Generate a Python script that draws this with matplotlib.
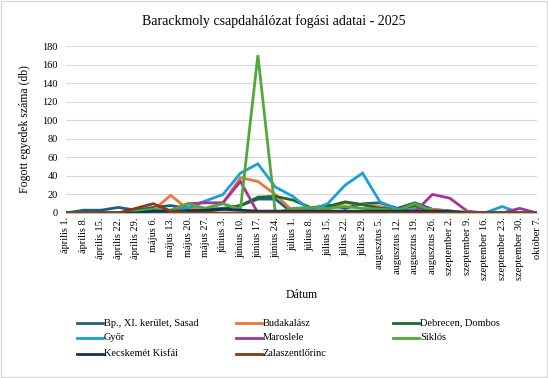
import matplotlib.pyplot as plt
from matplotlib.lines import Line2D
from matplotlib.patches import Rectangle

# ── data ─────────────────────────────────────────────────────────────────────
DATES = ["április 1.", "április 8.", "április 15.", "április 22.", "április 29.",
         "május 6.", "május 13.", "május 20.", "május 27.", "június 3.",
         "június 10.", "június 17.", "június 24.", "július 1.", "július 8.",
         "július 15.", "július 22.", "július 29.", "augusztus 5.", "augusztus 12.",
         "augusztus 19.", "augusztus 26.", "szeptember 2.", "szeptember 9.",
         "szeptember 16.", "szeptember 23.", "szeptember 30.", "október 7."]

BP_SASAD = [0, 3, 3, 6, 3, 6, 8, 5, 4, 5, 8, 15, 15, 0, 4, 9, 5, 10, 11, 5, 11, 4, 2, 0, 0, 0, 0, 0]
BUDAKALASZ = [0, 0, 0, 0, 0, 3, 19, 4, 5, 11, 38, 34, 20, 2, 6, 4, 11, 9, 7, 4, 5, 4, 2, 0, 0, 0, 0, 0]
DEBRECEN = [0, 0, 0, 0, 0, 0, 2, 3, 2, 4, 8, 17, 18, 14, 6, 7, 12, 9, 5, 4, 8, 2, 1, 0, 0, 0, 0, 0]
GYOR = [0, 0, 0, 0, 0, 0, 3, 6, 13, 20, 43, 53, 28, 18, 3, 10, 30, 43, 12, 4, 3, 0, 0, 0, 0, 7, 0, 0]
MAROSLELE = [0, 0, 0, 0, 0, 1, 2, 10, 11, 11, 34, 0, 0, 0, 0, 0, 0, 0, 0, 3, 1, 20, 16, 2, 0, 0, 5, 0]
SIKLOS = [0, 0, 0, 0, 2, 4, 3, 10, 5, 10, 4, 170, 0, 5, 6, 5, 7, 5, 4, 3, 10, 2, 2, 1, 0, 0, 0, 0]
KECSKEMET = [0, 0, 0, 0, 0, 2, 2, 2, 3, 4, 3, 2, 2, 2, 2, 2, 2, 2, 2, 2, 2, 2, 2, 0, 0, 0, 0, 0]
ZALA = [0, 0, 0, 0, 5, 10, 2, 0, 0, 0, 0, 0, 0, 0, 0, 0, 0, 0, 0, 0, 0, 0, 0, 0, 0, 0, 0, 0]

SERIES = [
    ("Bp., XI. kerület, Sasad", BP_SASAD, "#1F5F7E"),
    ("Budakalász", BUDAKALASZ, "#E8773A"),
    ("Debrecen, Dombos", DEBRECEN, "#1C6B2B"),
    ("Győr", GYOR, "#1AA0D8"),
    ("Maroslele", MAROSLELE, "#A0359C"),
    ("Siklós", SIKLOS, "#52A83A"),
    ("Kecskemét Kisfái", KECSKEMET, "#0E3550"),
    ("Zalaszentlőrinc", ZALA, "#8C3710"),
]

plt.rcParams["font.family"] = ["Liberation Serif", "DejaVu Serif"]

fig = plt.figure(figsize=(5.48, 3.78), dpi=100)
ax = fig.add_axes([66 / 548, 1 - 213 / 378, (537 - 66) / 548, (213 - 46) / 378])

x = list(range(len(DATES)))
for name, vals, col in SERIES:
    ax.plot(x, vals, color=col, lw=2.0, label=name, solid_joinstyle="miter")

ax.set_xlim(0, len(DATES) - 1)
ax.set_ylim(0, 180)
ax.set_yticks(range(0, 181, 20))
ax.set_xticks(x)
ax.set_xticklabels(DATES, rotation=90, fontsize=7.5)
ax.tick_params(axis="y", labelsize=7.5, length=0, pad=6)
ax.tick_params(axis="x", length=0, pad=3)
ax.grid(axis="y", color="#D9D9D9", lw=0.8)
ax.set_axisbelow(True)
for s in ("top", "right", "left"):
    ax.spines[s].set_visible(False)
ax.spines["bottom"].set_color("#BFBFBF")

ax.set_xlabel("Dátum", fontsize=8.5, labelpad=6)
ax.set_ylabel("Fogott egyedek száma (db)", fontsize=8.5, labelpad=8)
fig.text(0.5, 1 - 21 / 378, "Barackmoly csapdahálózat fogási adatai - 2025",
         ha="center", va="center", fontsize=10)

# legend laid out row by row like the original
col_x = [77, 236, 393]
row_y = [323, 338, 354]
for i, (name, vals, col) in enumerate(SERIES):
    cx, ry = col_x[i % 3], row_y[i // 3]
    fig.add_artist(Line2D([cx / 548, (cx + 26) / 548], [1 - ry / 378] * 2,
                          color=col, lw=2.0, transform=fig.transFigure))
    fig.text((cx + 27) / 548, 1 - ry / 378, name, ha="left", va="center", fontsize=7.5)

fig.add_artist(Rectangle((0.002, 0.002), 0.996, 0.996, transform=fig.transFigure,
                         fill=False, edgecolor="#D9D9D9", lw=1))

fig.savefig("out.png", dpi=100)
